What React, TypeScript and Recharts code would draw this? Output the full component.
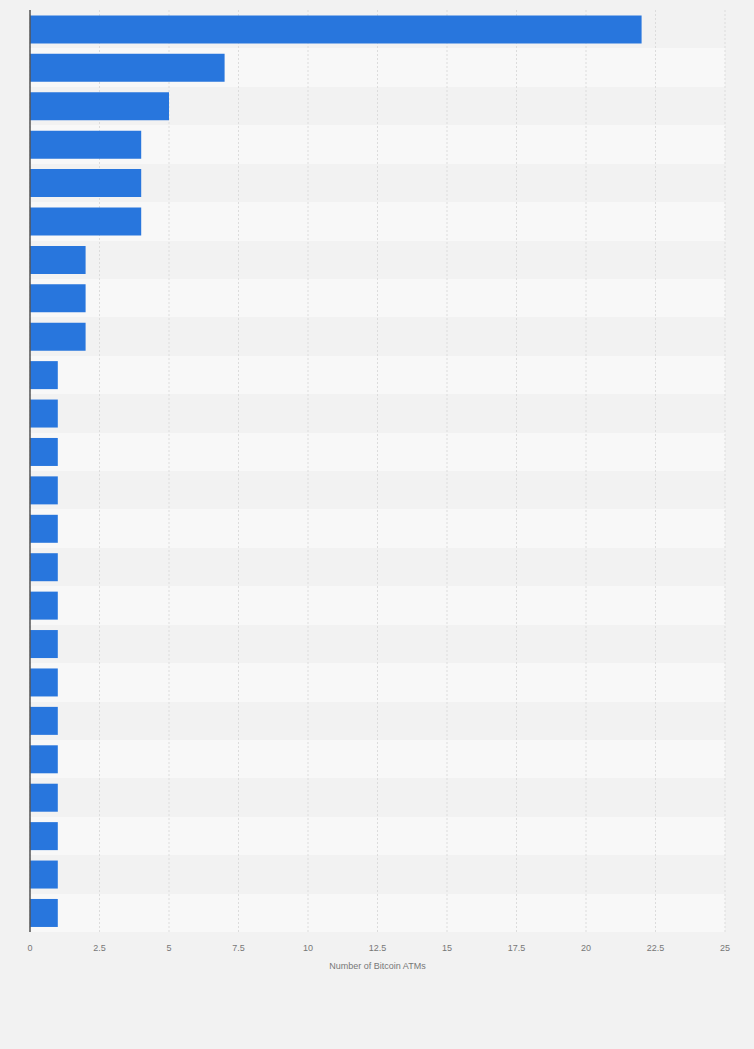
import { BarChart, Bar, XAxis, YAxis, CartesianGrid } from "recharts";

// Ranked locations (labels are not shown on the chart)
const locations = [
  "#1", "#2", "#3", "#4", "#5", "#6", "#7", "#8", "#9", "#10", "#11", "#12",
  "#13", "#14", "#15", "#16", "#17", "#18", "#19", "#20", "#21", "#22", "#23", "#24",
];
const atmCounts = [22, 7, 5, 4, 4, 4, 2, 2, 2, 1, 1, 1, 1, 1, 1, 1, 1, 1, 1, 1, 1, 1, 1, 1];
const xTicks = [0, 2.5, 5, 7.5, 10, 12.5, 15, 17.5, 20, 22.5, 25];

const data = locations.map((name, i) => ({ name, value: atmCounts[i] }));

const FONT = '"Liberation Sans", Arial, sans-serif';

// band boundaries of the category axis, used for the alternating row stripes
function rowStarts(props: any): number[] {
  const scale = props?.yAxis?.scale;
  if (scale && typeof scale === "function") {
    const pts = locations
      .map((n) => scale(n))
      .filter((v: any) => typeof v === "number" && !isNaN(v));
    if (pts.length === locations.length) return pts;
  }
  const { top, height } = props.offset;
  return locations.map((_, i) => top + (i * height) / locations.length);
}

export default function App() {
  return (
    <div
      style={{
        position: "absolute",
        left: 0,
        top: 0,
        width: 754,
        height: 1049,
        background: "#f2f2f2",
        fontFamily: FONT,
      }}
    >
      <BarChart
        width={754}
        height={1049}
        data={data}
        layout="vertical"
        margin={{ top: 10, right: 29, left: 29, bottom: 77 }}
        barCategoryGap="14%"
      >
        {/* alternating row stripes */}
        <CartesianGrid
          vertical={false}
          horizontalCoordinatesGenerator={rowStarts}
          horizontalFill={["#f2f2f2", "#f8f8f8"]}
          stroke="none"
        />
        {/* vertical dashed grid */}
        <CartesianGrid
          horizontal={false}
          stroke="#dcdcdc"
          strokeDasharray="2 2"
        />
        <XAxis
          type="number"
          domain={[0, 25]}
          ticks={xTicks}
          axisLine={false}
          tickLine={false}
          interval={0}
          tick={{ fill: "#777777", fontSize: 9, fontFamily: FONT, dy: 5 }}
          height={40}
          label={{
            value: "Number of Bitcoin ATMs",
            position: "insideBottom",
            offset: 3,
            fill: "#777777",
            fontSize: 9,
            fontFamily: FONT,
          }}
        />
        <YAxis
          type="category"
          dataKey="name"
          width={1}
          tick={false}
          tickLine={false}
          axisLine={{ stroke: "#555555", strokeWidth: 1.5 }}
        />
        <Bar dataKey="value" fill="#2876dd" isAnimationActive={false} />
      </BarChart>
    </div>
  );
}
